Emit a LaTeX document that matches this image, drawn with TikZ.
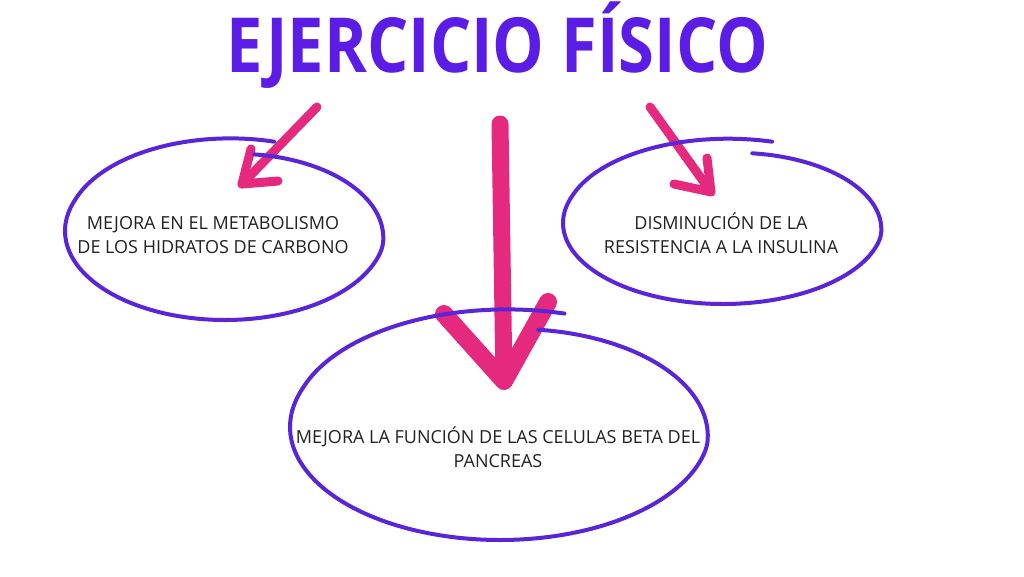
\documentclass[tikz,border=0pt]{standalone}
\usepackage{graphicx}
\usepackage{fontspec}
\setmainfont{Open Sans}
\definecolor{titlepurple}{HTML}{5B1CE6}
\definecolor{ringpurple}{HTML}{5A25D8}
\definecolor{arrowpink}{HTML}{E4297F}
\definecolor{textgray}{HTML}{222222}
\newcommand{\myloopk}{(1-0.12*max(0,min(1,(10-\x)/88))+0.05*max(0,(\x-200)/87))}
\newcommand{\handloop}[4]{\draw[ring] plot[smooth, domain=-78:287, samples=90] ({#1+#3*\myloopk*cos(\x)},{#2+#4*\myloopk*sin(\x)});}
\begin{document}
\begin{tikzpicture}[x=1pt,y=-1pt,
  ring/.style={draw=ringpurple, line width=4, line cap=round, line join=round},
  pinkarrow/.style={draw=arrowpink, line cap=round, line join=round},
  txt/.style={font=\fontsize{18}{24}\selectfont, text=textgray, inner sep=0, anchor=base}]
\useasboundingbox[fill=white] (0,0) rectangle (1024,576);
\node[anchor=base, text=titlepurple, font=\fontsize{76}{90}\selectfont\bfseries, inner sep=0] (title) at (497,72) {\scalebox{0.855}[1]{EJERCICIO FÍSICO}};
% arrows
\coordinate (lA) at (317,107); \coordinate (lT) at (242,184);
\coordinate (lU) at (251,149); \coordinate (lR) at (278,181);
\draw[pinkarrow, line width=9] (lA) -- (lT);
\draw[pinkarrow, line width=9] (lU) -- (lT) -- (lR);
\coordinate (rA) at (650,107); \coordinate (rT) at (711,192);
\coordinate (rU) at (707,158); \coordinate (rL) at (674,184);
\draw[pinkarrow, line width=9] (rA) -- (rT);
\draw[pinkarrow, line width=9] (rU) -- (rT) -- (rL);
\coordinate (cA) at (500,124); \coordinate (cT) at (504,381);
\coordinate (cL) at (444,314); \coordinate (cR) at (548,302);
\draw[pinkarrow, line width=17] (cA) -- (cT);
\draw[pinkarrow, line width=18] (cL) -- (cT) -- (cR);
% loops
\handloop{225}{231}{160}{89}
\handloop{723}{223}{160}{81}
\handloop{500}{427}{210}{113}
% texts
\node[txt] (tl) at (213,229) {\begin{tabular}[t]{@{}c@{}}MEJORA EN EL METABOLISMO\\DE LOS HIDRATOS DE CARBONO\end{tabular}};
\node[txt] (tr) at (721,229) {\begin{tabular}[t]{@{}c@{}}DISMINUCIÓN DE LA\\RESISTENCIA A LA INSULINA\end{tabular}};
\node[txt] (tb) at (498,443) {\begin{tabular}[t]{@{}c@{}}MEJORA LA FUNCIÓN DE LAS CELULAS BETA DEL\\PANCREAS\end{tabular}};
\end{tikzpicture}
\end{document}
